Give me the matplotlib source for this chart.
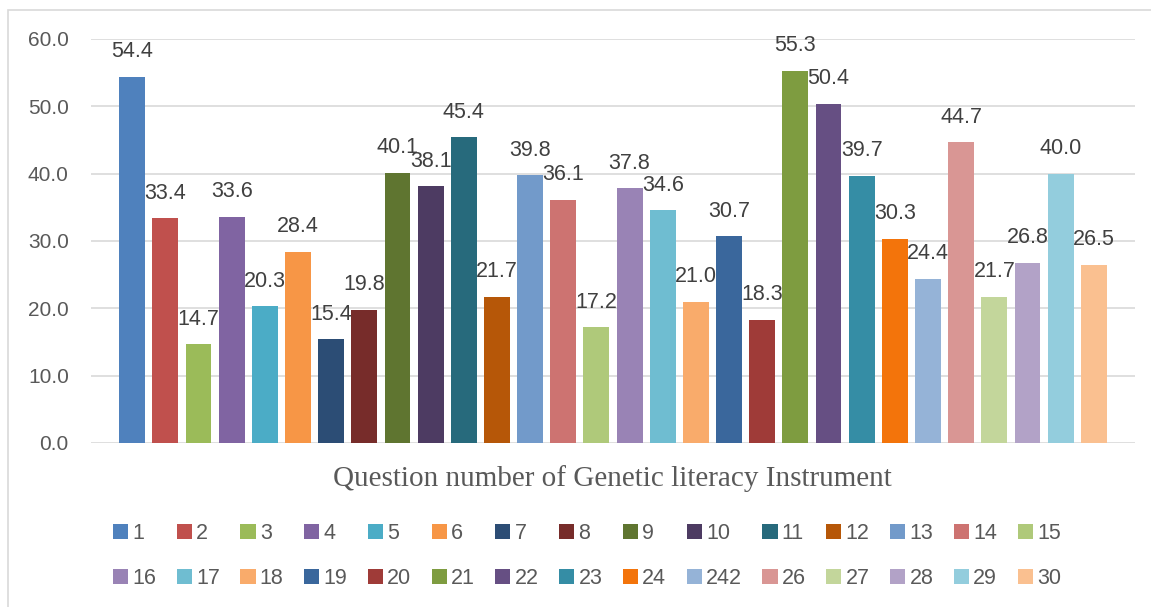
import matplotlib.pyplot as plt
from matplotlib.patches import Rectangle

# question numbers as shown in the legend (item 25 is labelled "242" in the source)
labels = ["1", "2", "3", "4", "5", "6", "7", "8", "9", "10",
          "11", "12", "13", "14", "15", "16", "17", "18", "19", "20",
          "21", "22", "23", "24", "242", "26", "27", "28", "29", "30"]
values = [54.4, 33.4, 14.7, 33.6, 20.3, 28.4, 15.4, 19.8, 40.1, 38.1,
          45.4, 21.7, 39.8, 36.1, 17.2, 37.8, 34.6, 21.0, 30.7, 18.3,
          55.3, 50.4, 39.7, 30.3, 24.4, 44.7, 21.7, 26.8, 40.0, 26.5]
colors = ["#4F81BD", "#C0504D", "#9BBB59", "#8064A2", "#4BACC6", "#F79646",
          "#2C4D75", "#772C2A", "#5F7530", "#4D3B62", "#276A7C", "#B65708",
          "#729ACA", "#CD7371", "#AFC97A", "#9983B5", "#6FBDD1", "#F9AB6B",
          "#3A679C", "#9F3B38", "#7E9C40", "#664F83", "#358DA5", "#F3740B",
          "#95B3D7", "#D99694", "#C3D69B", "#B2A2C7", "#93CDDD", "#FAC090"]
y_ticks = [0, 10, 20, 30, 40, 50, 60]

W, H = 1151, 607
fig = plt.figure(figsize=(W / 100, H / 100), dpi=100)
plt.rcParams["font.family"] = ["Liberation Sans", "DejaVu Sans"]

# chart area border (cropped on the right and bottom)
fig.patches.append(Rectangle((8 / W, -0.05), 1.2, 1 - 10 / H + 0.05,
                             transform=fig.transFigure, fill=False,
                             edgecolor="#D9D9D9", linewidth=1.2))

ax = fig.add_axes([91 / W, 164 / H, (1135 - 91) / W, (443 - 39) / H])

handles = []
for i, (lab, v, c) in enumerate(zip(labels, values, colors)):
    b = ax.bar(i, v, width=0.78, color=c, label=lab, zorder=3)
    handles.append(b)
    ax.annotate(f"{v:.1f}", (i, v), xytext=(0, 18), textcoords="offset points",
                ha="center", va="center", fontsize=15.5, color="#404040", zorder=4)

ax.set_xlim(-1.24, 30.24)
ax.set_ylim(0, 60)
ax.set_yticks(y_ticks)
ax.set_yticklabels([f"{t:.1f}" for t in y_ticks])
ax.set_xticks([])
ax.tick_params(axis="y", length=0, pad=16, labelsize=15, labelcolor="#595959")
ax.grid(axis="y", color="#D9D9D9", linewidth=1.2, zorder=0)
for s in ax.spines.values():
    s.set_visible(False)

fig.text(612 / W, 1 - 479 / H, "Question number of Genetic literacy Instrument",
         ha="center", va="center", fontsize=21, color="#595959",
         family=["Liberation Serif", "DejaVu Serif"])

# legend filled row by row: reorder for matplotlib's column-major fill
order = []
for j in range(15):
    order += [j, j + 15]
leg = fig.legend([handles[k] for k in order], [labels[k] for k in order],
                 ncol=15, loc="center", bbox_to_anchor=(587 / W, 1 - 556 / H),
                 frameon=False, fontsize=15.5, handlelength=0.7, handleheight=0.7,
                 handletextpad=0.2, columnspacing=0.95, labelspacing=1.1,
                 labelcolor="#595959")

fig.savefig("out.png", dpi=100)
